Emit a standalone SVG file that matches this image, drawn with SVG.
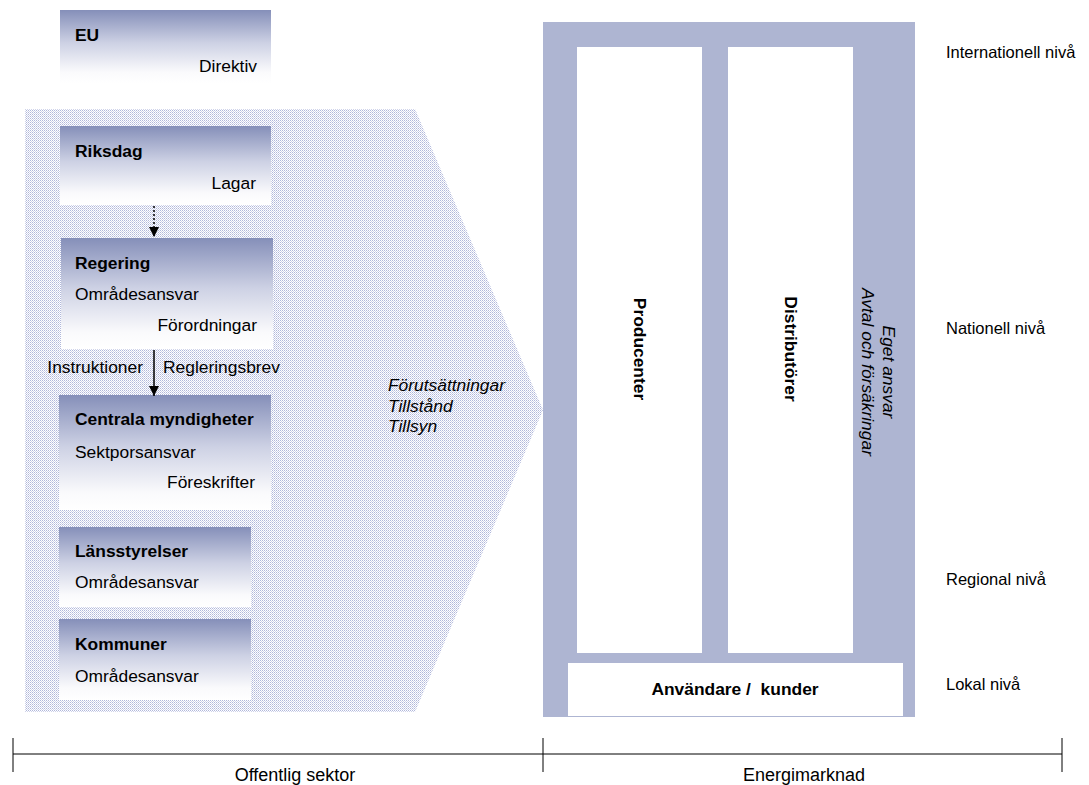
<svg xmlns="http://www.w3.org/2000/svg" width="1089" height="785" viewBox="0 0 1089 785">
  <defs>
    <linearGradient id="boxFill" x1="0" y1="0" x2="0" y2="1">
      <stop offset="0" stop-color="#858fb9"/>
      <stop offset="0.45" stop-color="#cdd1e4"/>
      <stop offset="0.85" stop-color="#fafafc"/>
      <stop offset="1" stop-color="#ffffff"/>
    </linearGradient>
    <pattern id="dots" width="2" height="2" patternUnits="userSpaceOnUse">
      <rect width="2" height="2" fill="#ffffff"/>
      <rect width="1" height="1" fill="#b0b7da"/>
      <rect x="1" y="1" width="1" height="1" fill="#cfd3ea"/>
    </pattern>
    <marker id="arrow" viewBox="0 0 10 10" refX="10" refY="5" markerWidth="10" markerHeight="11" markerUnits="userSpaceOnUse" orient="auto">
      <path d="M0,0 L10,5 L0,10 z" fill="#000"/>
    </marker>
  </defs>
  <style>
    text { font-family: "Liberation Sans", Arial, sans-serif; font-size: 17.4px; fill: #000; }
    .b { font-weight: bold; }
    .i { font-style: italic; }
    .r { text-anchor: end; }
    .m { text-anchor: middle; }
    .lvl { font-size: 16.5px; }
    .axis-label { font-size: 18px; }
    .box { fill: url(#boxFill); }
    .market { fill: #aeb5d2; }
    .white { fill: #ffffff; }
  </style>

  <!-- public sector background chevron -->
  <polygon points="25,109 415,109 543,410 415,712 25,712" fill="url(#dots)"/>

  <g id="eu">
    <rect class="box" x="60" y="10" width="211" height="73"/>
    <text class="b" x="75" y="41">EU</text>
    <text class="r" x="257" y="72">Direktiv</text>
  </g>

  <g id="riksdag">
    <rect class="box" x="60" y="126" width="211" height="79"/>
    <text class="b" x="75" y="157">Riksdag</text>
    <text class="r" x="256" y="189">Lagar</text>
  </g>

  <g id="regering">
    <rect class="box" x="61" y="238" width="212" height="111"/>
    <text class="b" x="75" y="269">Regering</text>
    <text x="75" y="300">Områdesansvar</text>
    <text class="r" x="257" y="331">Förordningar</text>
  </g>

  <g id="centrala-myndigheter">
    <rect class="box" x="59" y="395" width="212" height="115"/>
    <text class="b" x="75" y="425">Centrala myndigheter</text>
    <text x="75" y="458">Sektporsansvar</text>
    <text class="r" x="255" y="488">Föreskrifter</text>
  </g>

  <g id="lansstyrelser">
    <rect class="box" x="59" y="527" width="192" height="80"/>
    <text class="b" x="75" y="557">Länsstyrelser</text>
    <text x="75" y="588">Områdesansvar</text>
  </g>

  <g id="kommuner">
    <rect class="box" x="59" y="619" width="192" height="81"/>
    <text class="b" x="75" y="650">Kommuner</text>
    <text x="75" y="682">Områdesansvar</text>
  </g>

  <g id="connectors">
    <line x1="154" y1="206" x2="154" y2="237" stroke="#000" stroke-width="1.5" stroke-dasharray="2,2" marker-end="url(#arrow)"/>
    <line x1="154" y1="350" x2="154" y2="396" stroke="#000" stroke-width="1.5" marker-end="url(#arrow)"/>
    <text class="r" x="143" y="373">Instruktioner</text>
    <text x="163" y="373">Regleringsbrev</text>
  </g>

  <g id="conditions">
    <text class="i" x="388" y="391">Förutsättningar</text>
    <text class="i" x="388" y="412">Tillstånd</text>
    <text class="i" x="388" y="432">Tillsyn</text>
  </g>

  <!-- energy market -->
  <g id="energimarknad">
    <rect class="market" x="543" y="22" width="372" height="695"/>
  </g>

  <g id="producenter">
    <rect class="white" x="577" y="47" width="125" height="606"/>
    <text class="b m" transform="translate(634,349) rotate(90)">Producenter</text>
  </g>

  <g id="distributorer">
    <rect class="white" x="728" y="47" width="125" height="606"/>
    <text class="b m" transform="translate(785,349) rotate(90)">Distributörer</text>
  </g>

  <g id="eget-ansvar">
    <text class="i m" transform="translate(883,372) rotate(90)">Eget ansvar</text>
    <text class="i m" transform="translate(862,372) rotate(90)">Avtal och försäkringar</text>
  </g>

  <g id="anvandare">
    <rect class="white" x="568" y="663" width="335" height="53"/>
    <text class="b m" x="735" y="695" xml:space="preserve">Användare /  kunder</text>
  </g>

  <g id="levels">
    <text class="lvl" x="946" y="58">Internationell nivå</text>
    <text class="lvl" x="946" y="334">Nationell nivå</text>
    <text class="lvl" x="946" y="585">Regional nivå</text>
    <text class="lvl" x="946" y="690">Lokal nivå</text>
  </g>

  <g id="axis" stroke="#000" stroke-width="1">
    <line x1="13" y1="754" x2="1062" y2="754"/>
    <line x1="13" y1="738" x2="13" y2="772"/>
    <line x1="543" y1="738" x2="543" y2="772"/>
    <line x1="1062" y1="738" x2="1062" y2="772"/>
  </g>
  <text class="m axis-label" x="295" y="781">Offentlig sektor</text>
  <text class="m axis-label" x="804" y="781">Energimarknad</text>
</svg>
